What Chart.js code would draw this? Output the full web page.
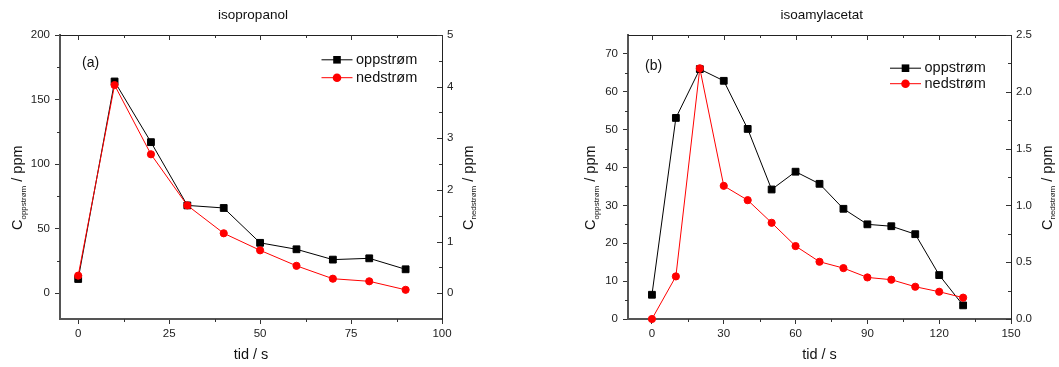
<!DOCTYPE html>
<html><head><meta charset="utf-8">
<script src="https://cdn.jsdelivr.net/npm/chart.js@4/dist/chart.umd.min.js"></script>
<style>
html,body{margin:0;padding:0;background:#fff;}
#wrap{position:relative;width:1059px;height:367px;overflow:hidden;background:#fff;}
canvas{position:absolute;top:0;}
</style></head><body>
<div id="wrap">
<canvas id="c1" width="530" height="367" style="left:0px"></canvas>
<canvas id="c2" width="529" height="367" style="left:530px"></canvas>
</div>
<script>
// ---- Panel (a): isopropanol ----
const timeA = [0, 10, 20, 30, 40, 50, 60, 70, 80, 90];
const upstreamA = [11, 164, 117, 68, 66, 39, 34, 26, 27, 18.5];
const downstreamA = [0.34, 4.03, 2.69, 1.70, 1.16, 0.83, 0.53, 0.28, 0.23, 0.065];
const xTicksA = [0, 25, 50, 75, 100];
const yTicksA = [0, 50, 100, 150, 200];
const y2TicksA = [0, 1, 2, 3, 4, 5];

// ---- Panel (b): isoamylacetat ----
const timeB = [0, 10, 20, 30, 40, 50, 60, 70, 80, 90, 100, 110, 120, 130];
const upstreamB = [6.4, 53.1, 66.0, 62.9, 50.2, 34.2, 38.9, 35.7, 29.1, 25.0, 24.5, 22.4, 11.6, 3.6];
const downstreamB = [0.0, 0.375, 2.207, 1.172, 1.046, 0.847, 0.642, 0.504, 0.448, 0.366, 0.346, 0.284, 0.240, 0.188];
const xTicksB = [0, 30, 60, 90, 120, 150];
const yTicksB = [0, 10, 20, 30, 40, 50, 60, 70];
const y2TicksB = [0, 0.5, 1.0, 1.5, 2.0, 2.5];

const seriesNames = ['oppstrøm', 'nedstrøm'];

const FONT = "'Liberation Sans', Arial, Helvetica, sans-serif";
Chart.defaults.font.family = FONT;

const mids = arr => arr.slice(1).map((v, i) => (v + arr[i]) / 2);

function drawYTitle(ctx, baseX, startY, sub) {
  ctx.save();
  ctx.translate(baseX, startY);
  ctx.rotate(-Math.PI / 2);
  ctx.fillStyle = '#111';
  ctx.textBaseline = 'alphabetic';
  ctx.textAlign = 'left';
  ctx.font = '14.5px ' + FONT;
  ctx.fillText('C', 0, 0);
  let x = ctx.measureText('C').width;
  ctx.font = '8px ' + FONT;
  ctx.fillText(sub, x, 3.5);
  x += ctx.measureText(sub).width;
  ctx.font = '14.5px ' + FONT;
  ctx.fillText(' / ppm', x, 0);
  ctx.restore();
}

const extras = {
  id: 'extras',
  afterDraw(chart, args, o) {
    const ctx = chart.ctx, a = chart.chartArea;
    const sx = chart.scales.x, sy = chart.scales.y, sy2 = chart.scales.y2;
    ctx.save();
    // top frame line
    ctx.strokeStyle = '#222'; ctx.lineWidth = 1;
    ctx.beginPath();
    ctx.moveTo(a.left, Math.round(a.top) + 0.5);
    ctx.lineTo(a.right, Math.round(a.top) + 0.5);
    ctx.stroke();
    // ticks
    ctx.strokeStyle = '#333';
    ctx.beginPath();
    const px = v => Math.round(sx.getPixelForValue(v)) + 0.5;
    const py = (s, v) => Math.round(s.getPixelForValue(v)) + 0.5;
    o.xMajor.forEach(v => { const x = px(v); ctx.moveTo(x, a.top); ctx.lineTo(x, a.top + 5); });
    o.xMinor.forEach(v => { const x = px(v);
      ctx.moveTo(x, a.top); ctx.lineTo(x, a.top + 3);
      ctx.moveTo(x, a.bottom); ctx.lineTo(x, a.bottom + 3); });
    o.yMinor.forEach(v => { const y = py(sy, v); ctx.moveTo(a.left - 3, y); ctx.lineTo(a.left, y); });
    o.y2Major.forEach(v => { const y = py(sy2, v); ctx.moveTo(a.right - 5, y); ctx.lineTo(a.right, y); });
    o.y2Minor.forEach(v => { const y = py(sy2, v); ctx.moveTo(a.right - 3, y); ctx.lineTo(a.right, y); });
    ctx.stroke();

    // chart title
    ctx.fillStyle = '#111';
    ctx.font = '13.5px ' + FONT;
    ctx.textAlign = 'center'; ctx.textBaseline = 'middle';
    ctx.fillText(o.title, o.titleX, 15);

    // panel label
    ctx.font = '14px ' + FONT;
    ctx.textAlign = 'left';
    ctx.fillText(o.panel, o.panelX, o.panelY);

    // legend
    chart.data.datasets.forEach((ds, i) => {
      const y = o.legY[i];
      const x0 = o.legX;
      ctx.strokeStyle = ds.borderColor; ctx.lineWidth = 1;
      ctx.beginPath(); ctx.moveTo(x0, y + 0.5); ctx.lineTo(x0 + 31, y + 0.5); ctx.stroke();
      ctx.fillStyle = ds.backgroundColor;
      ctx.beginPath();
      if (ds.pointStyle === 'rect') {
        ctx.rect(x0 + 15.5 - 3.8, y + 0.5 - 3.8, 7.6, 7.6);
      } else {
        ctx.arc(x0 + 15.5, y + 0.5, 4.3, 0, Math.PI * 2);
      }
      ctx.fill();
      ctx.fillStyle = '#111';
      ctx.font = '14.5px ' + FONT;
      ctx.textAlign = 'left'; ctx.textBaseline = 'middle';
      ctx.fillText(ds.label, x0 + 34.5, y + 0.5);
    });

    // y titles
    drawYTitle(ctx, o.yTitleX, 230, 'oppstrøm');
    drawYTitle(ctx, o.y2TitleX, 230, 'nedstrøm');
    ctx.restore();
  }
};

function makeChart(id, c) {
  const tickFont = { size: 11.5, family: FONT };
  const axisCommon = {
    grid: { display: true, drawOnChartArea: false, drawTicks: true, tickLength: 5, tickColor: '#333', tickWidth: 1 },
    ticks: { font: tickFont, color: '#222', autoSkip: false, maxRotation: 0, padding: 5 }
  };
  return new Chart(document.getElementById(id), {
    type: 'line',
    data: {
      datasets: [
        { label: seriesNames[0], data: c.time.map((t, i) => ({ x: t, y: c.up[i] })), yAxisID: 'y',
          borderColor: '#000000', backgroundColor: '#000000', pointStyle: 'rect', pointRadius: 4.8,
          pointBorderWidth: 1, borderWidth: 1, order: 2, clip: false, tension: 0 },
        { label: seriesNames[1], data: c.time.map((t, i) => ({ x: t, y: c.down[i] })), yAxisID: 'y2',
          borderColor: '#ff0000', backgroundColor: '#ff0000', pointStyle: 'circle', pointRadius: 3.6,
          pointBorderWidth: 1, borderWidth: 1, order: 1, clip: false, tension: 0 }
      ]
    },
    options: {
      responsive: false, animation: false, devicePixelRatio: 1,
      layout: { padding: { top: 35, left: 0, right: 0, bottom: 0 } },
      plugins: { legend: { display: false }, tooltip: { enabled: false }, title: { display: false }, extras: c.extras },
      scales: {
        x: { type: 'linear', position: 'bottom', min: c.xMin, max: c.xMax,
          afterFit: s => { s.height = 48; },
          afterBuildTicks: s => { s.ticks = c.xTicks.map(v => ({ value: v })); },
          grid: axisCommon.grid,
          ticks: Object.assign({}, axisCommon.ticks, { padding: 3 }),
          border: { display: true, color: '#555', width: 2 },
          title: { display: true, text: 'tid / s', color: '#111', font: { size: 14.5, family: FONT }, padding: { top: 0, bottom: 3 } } },
        y: { type: 'linear', position: 'left', min: c.yMin, max: c.yMax,
          afterFit: s => { s.width = c.yWidth; },
          afterBuildTicks: s => { s.ticks = c.yTicks.map(v => ({ value: v })); },
          grid: axisCommon.grid, ticks: axisCommon.ticks,
          border: { display: true, color: '#555', width: 2 } },
        y2: { type: 'linear', position: 'right', min: c.y2Min, max: c.y2Max,
          afterFit: s => { s.width = c.y2Width; },
          afterBuildTicks: s => { s.ticks = c.y2Ticks.map(v => ({ value: v })); },
          grid: { display: true, drawOnChartArea: false, drawTicks: false },
          ticks: Object.assign({}, axisCommon.ticks, { callback: c.y2Fmt }),
          border: { display: true, color: '#222', width: 1 } }
      }
    },
    plugins: [extras]
  });
}

makeChart('c1', {
  time: timeA, up: upstreamA, down: downstreamA,
  xMin: -5, xMax: 100, yMin: -20, yMax: 200, y2Min: -0.5, y2Max: 5,
  xTicks: xTicksA, yTicks: yTicksA, y2Ticks: y2TicksA,
  yWidth: 60, y2Width: 88,
  y2Fmt: v => String(v),
  extras: {
    xMajor: xTicksA, xMinor: mids(xTicksA), yMinor: mids(yTicksA),
    y2Major: y2TicksA, y2Minor: mids(y2TicksA),
    title: 'isopropanol', titleX: 253, panel: '(a)', panelX: 82, panelY: 63,
    legX: 321.5, legY: [59.3, 77.2], yTitleX: 22, y2TitleX: 472.7
  }
});

makeChart('c2', {
  time: timeB, up: upstreamB, down: downstreamB,
  xMin: -10, xMax: 150, yMin: 0, yMax: 75, y2Min: 0, y2Max: 2.5,
  xTicks: xTicksB, yTicks: yTicksB, y2Ticks: y2TicksB,
  yWidth: 98, y2Width: 48,
  y2Fmt: v => Number(v).toFixed(1),
  extras: {
    xMajor: xTicksB, xMinor: mids(xTicksB), yMinor: mids(yTicksB),
    y2Major: y2TicksB, y2Minor: mids(y2TicksB),
    title: 'isoamylacetat', titleX: 291.7, panel: '(b)', panelX: 115, panelY: 66,
    legX: 360, legY: [67.7, 83.2], yTitleX: 65, y2TitleX: 521.7
  }
});
</script>
</body></html>
